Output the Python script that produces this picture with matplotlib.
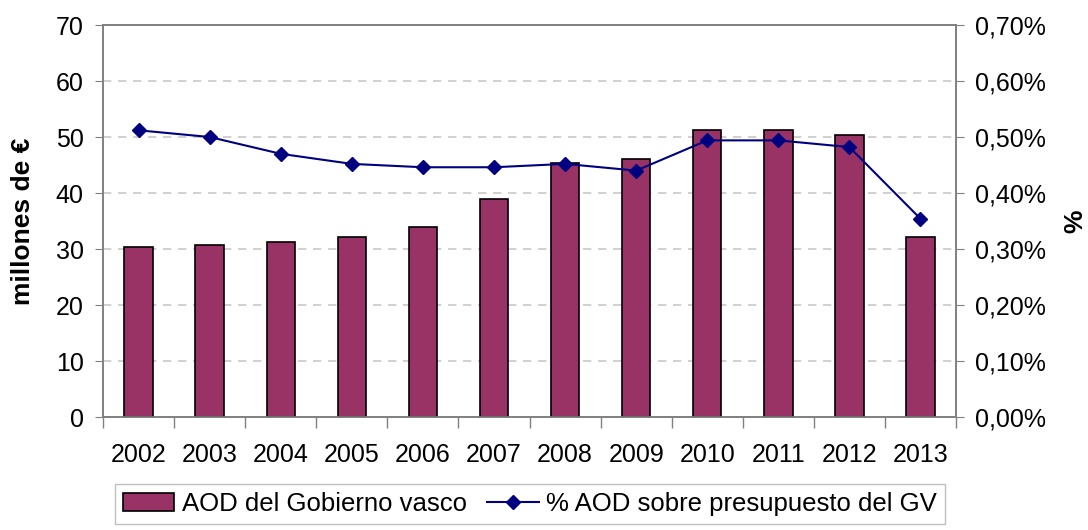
import numpy as np
import matplotlib.pyplot as plt
from matplotlib.ticker import FuncFormatter, MultipleLocator

plt.rcParams['font.family'] = ['Liberation Sans', 'DejaVu Sans']

# datos
years = ['2002', '2003', '2004', '2005', '2006', '2007',
         '2008', '2009', '2010', '2011', '2012', '2013']
aod = [30.4, 30.8, 31.3, 32.2, 34.0, 39.0, 45.4, 46.1, 51.2, 51.2, 50.3, 32.2]
pct = [0.512, 0.500, 0.470, 0.452, 0.446, 0.446, 0.452, 0.440, 0.494, 0.494, 0.482, 0.354]

fig = plt.figure(figsize=(10.88, 5.30), dpi=100)
ax = fig.add_axes([0.0947, 0.2132, 0.7840, 0.7396])
x = np.arange(len(years))

ax.bar(x, aod, width=0.4, color='#993366', edgecolor='black', linewidth=1.2,
       label='AOD del Gobierno vasco', zorder=3)
ax.set_xlim(-0.5, len(years) - 0.5)
ax.set_ylim(0, 70)
ax.yaxis.set_major_locator(MultipleLocator(10))
ax.grid(axis='y', color='#c8c8c8', linestyle=(0, (5, 4)), linewidth=1.2, zorder=0)

ax.set_xticks(np.arange(-0.5, len(years), 1))
ax.set_xticklabels([])
ax.set_xticks(x, minor=True)
ax.set_xticklabels(years, minor=True)
ax.tick_params(axis='x', which='major', length=8, color='#808080', width=1)
ax.tick_params(axis='x', which='minor', length=0, labelsize=18, pad=19)
ax.tick_params(axis='y', length=6, color='#808080', labelsize=18, pad=8)
for s in ax.spines.values():
    s.set_color('#808080')
    s.set_linewidth(1.2)
ax.set_ylabel('millones de €', fontsize=19, fontweight='bold', labelpad=15)

ax2 = ax.twinx()
ax2.plot(x, pct, color='#000080', marker='D', markersize=7, linewidth=1.5,
         label='% AOD sobre presupuesto del GV', zorder=4)
ax2.set_ylim(0, 0.7)
ax2.yaxis.set_major_locator(MultipleLocator(0.1))
ax2.yaxis.set_major_formatter(FuncFormatter(lambda v, p: f'{v:.2f}%'.replace('.', ',')))
ax2.tick_params(axis='y', length=6, color='#808080', labelsize=18, pad=8)
for s in ax2.spines.values():
    s.set_color('#808080')
    s.set_linewidth(1.2)
ax2.set_ylabel('%', fontsize=19, fontweight='bold', labelpad=12)

h1, l1 = ax.get_legend_handles_labels()
h2, l2 = ax2.get_legend_handles_labels()
leg = fig.legend(h1 + h2, l1 + l2, loc='lower center', bbox_to_anchor=(0.487, -0.012),
                 ncol=2, fontsize=18.5, frameon=True, fancybox=False,
                 handlelength=2.0, handletextpad=0.3, columnspacing=0.8,
                 borderpad=0.3)
leg.get_frame().set_edgecolor('#b0b0b0')
leg.get_frame().set_linewidth(1.0)

fig.savefig('out.png', dpi=100)
